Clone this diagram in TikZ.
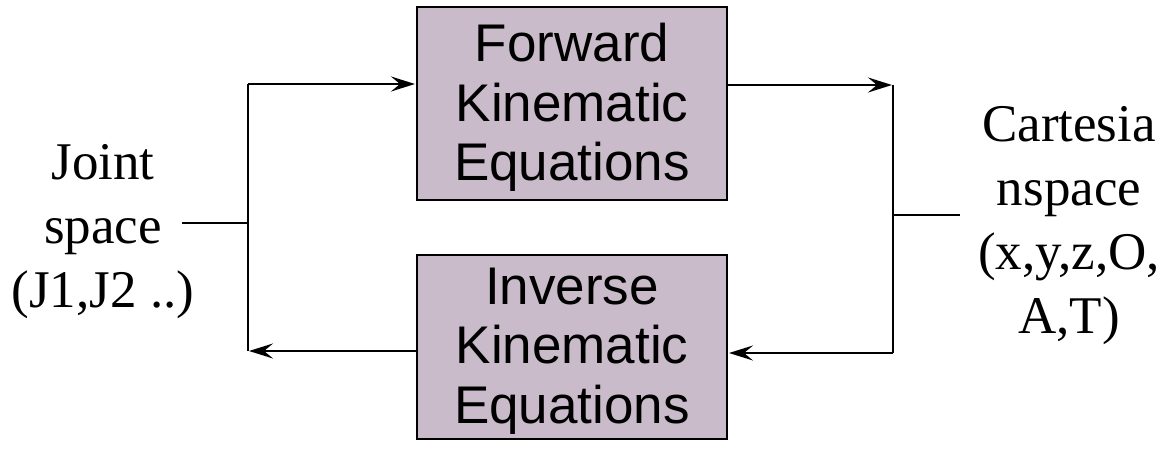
\documentclass[tikz,border=0pt]{standalone}
\usepackage{fontspec}
\setmainfont{Liberation Serif}
\newfontfamily\boxfont{Liberation Sans}
\usetikzlibrary{arrows.meta}
\definecolor{boxfill}{RGB}{201,187,202}
\tikzset{
  eqbox/.style={draw=black, line width=2pt, fill=boxfill, minimum width=310pt,
    inner sep=0pt},
  eqtext/.style={inner sep=0pt, align=center, yshift=-4pt,
    font=\boxfont\fontsize{53}{59.5}\selectfont},
  sidetext/.style={inner sep=0pt, align=center, font=\fontsize{53}{64}\selectfont},
  link/.style={line width=2.6pt},
  arr/.style={link, -{Stealth[length=24pt, width=15pt, inset=9pt]}, shorten >=1pt}
}
\begin{document}
\begin{tikzpicture}[x=1pt, y=-1pt]
  \useasboundingbox (0,0) rectangle (1165,449);
  % the two equation blocks
  \node[eqbox, minimum height=193pt,
        label={[eqtext]center:Forward\\Kinematic\\Equations}] (fwd) at (572,103.5) {};
  \node[eqbox, minimum height=184pt,
        label={[eqtext]center:Inverse\\Kinematic\\Equations}] (inv) at (572,347) {};
  % side labels
  \node[sidetext] (joint) at (103,232) {Joint\\space\\(J1,J2 ..)};
  \node[sidetext] (cart) at (1069,226) {Cartesia\\nspace\\(x,y,z,O,\\A,T)};
  % bracket corners and stub ends
  \coordinate (lt) at (248,84);
  \coordinate (lb) at (248,351);
  \coordinate (lm) at (248,223);
  \coordinate (ls) at (182,223);
  \coordinate (rt) at (893,85);
  \coordinate (rb) at (893,353);
  \coordinate (rm) at (893,215);
  \coordinate (rs) at (960,215);
  % joint-space side
  \draw[link] (ls) -- (lm);
  \draw[link] (lb) -- (lt);
  \draw[arr] (lt) -- (lt -| fwd.west);
  \draw[arr] (lb -| inv.west) -- (lb);
  % cartesian side
  \draw[link] (rm) -- (rs);
  \draw[link] (rt) -- (rb);
  \draw[arr] (rt -| fwd.east) -- (rt);
  \draw[arr] (rb) -- (rb -| inv.east);
\end{tikzpicture}
\end{document}
